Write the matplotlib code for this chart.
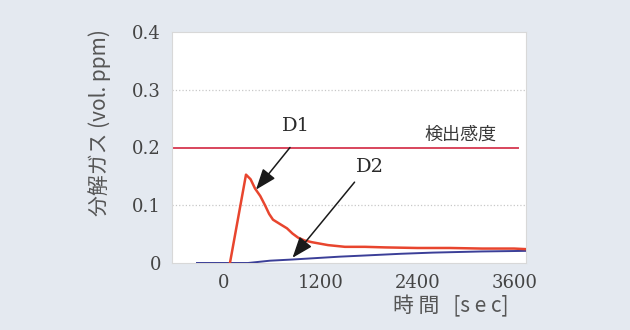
import numpy as np
import matplotlib.pyplot as plt

plt.rcParams['font.family'] = ['DejaVu Serif', 'Noto Sans CJK JP']

# D1 (red) and D2 (blue) decomposition gas
d1_t = [74, 273, 330, 385, 450, 509, 560, 608, 700, 782, 850, 918, 1000, 1092, 1290, 1501, 1749, 2000, 2400, 2804, 3200, 3600, 3747]
d1_v = [0.0, 0.153, 0.145, 0.129, 0.116, 0.100, 0.085, 0.075, 0.067, 0.060, 0.051, 0.044, 0.039, 0.036, 0.031, 0.028, 0.028, 0.027, 0.026, 0.026, 0.025, 0.025, 0.024]
d2_t = [-335, 298, 570, 844, 1200, 1439, 1749, 2200, 2593, 3200, 3747]
d2_v = [0.0, 0.0, 0.004, 0.006, 0.009, 0.011, 0.013, 0.016, 0.018, 0.020, 0.021]
limit_value = 0.2
xticks = [0, 1200, 2400, 3600]
yticks = [0, 0.1, 0.2, 0.3, 0.4]
yticklabels = ["0", "0.1", "0.2", "0.3", "0.4"]

fig = plt.figure(figsize=(6.3, 3.3), dpi=100)
fig.patch.set_facecolor('#e4e9f0')
ax = fig.add_axes([172 / 630, 1 - 263 / 330, (526 - 172) / 630, (263 - 32) / 330])
ax.set_facecolor('white')

ax.set_xlim(-645, 3747)
ax.set_ylim(0, 0.4)

# Dotted grid
for y in [0.1, 0.3]:
    ax.axhline(y, color='#c8c8c8', lw=0.9, ls=':', zorder=1)

# Detection limit line
ax.plot([-645, 3650], [limit_value, limit_value], color='#d8455c', lw=1.4, zorder=2)

ax.plot(d2_t, d2_v, color='#3b3f98', lw=1.4, zorder=3)
ax.plot(d1_t, d1_v, color='#e8452e', lw=1.8, zorder=4)

# Annotations
arrow = dict(arrowstyle='-|>,head_length=0.8,head_width=0.3', color='#1a1a1a', lw=1.1,
             mutation_scale=16, shrinkA=0, shrinkB=0)
ax.annotate('', xy=(397, 0.127), xytext=(819, 0.200), arrowprops=arrow, zorder=5)
ax.annotate('', xy=(850, 0.009), xytext=(1620, 0.140), arrowprops=arrow, zorder=5)
ax.text(893, 0.238, 'D1', fontsize=14, ha='center', va='center', color='#2a2a2a')
ax.text(1811, 0.166, 'D2', fontsize=14, ha='center', va='center', color='#2a2a2a')
ax.text(2928, 0.222, '検出感度', fontsize=13, ha='center', va='center', color='#3a3a3a',
        family=['Noto Sans CJK JP'])

ax.set_xticks(xticks)
ax.set_xticklabels([str(t) for t in xticks])
ax.set_yticks(yticks)
ax.set_yticklabels(yticklabels)
ax.tick_params(length=0, labelsize=13, colors='#444444', pad=8)
for s in ax.spines.values():
    s.set_color('#d8d8d8')
    s.set_linewidth(0.8)

fig.text(100 / 630, 1 - 123 / 330, '分解ガス (vol. ppm)', rotation=90, fontsize=15,
         ha='center', va='center', color='#555555', family=['Noto Sans CJK JP', 'DejaVu Serif'])
fig.text(451 / 630, 1 - 306 / 330, '時 間   [s e c]', fontsize=15,
         ha='center', va='center', color='#555555', family=['Noto Sans CJK JP', 'DejaVu Serif'])

fig.savefig('out.png', dpi=100, facecolor=fig.get_facecolor())
